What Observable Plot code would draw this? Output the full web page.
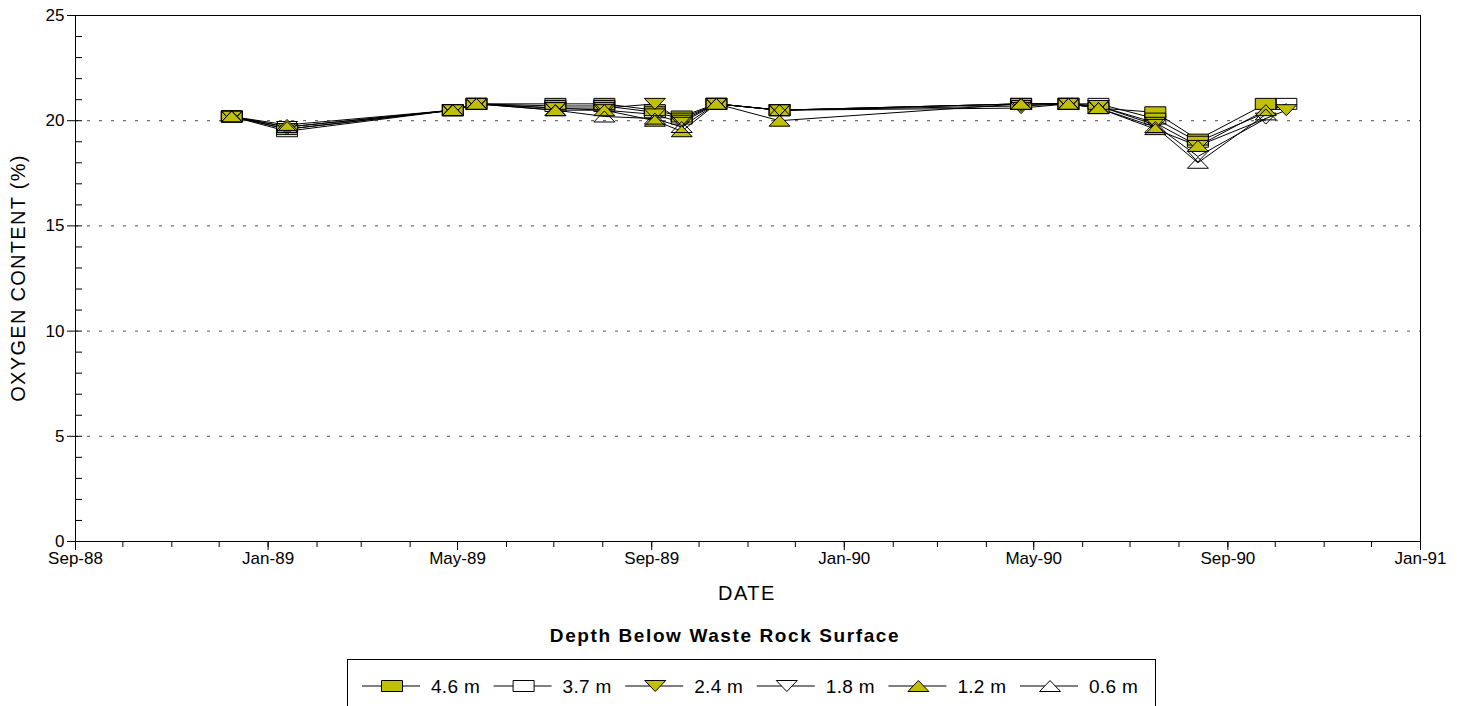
<!DOCTYPE html>
<html><head><meta charset="utf-8">
<script src="https://cdn.jsdelivr.net/npm/d3@7"></script>
<script src="https://cdn.jsdelivr.net/npm/@observablehq/plot@0.6"></script>
<style>
body{margin:0;background:#fff;font-family:"Liberation Sans",Arial,sans-serif;color:#000;}
#wrap{position:relative;width:1462px;height:706px;overflow:hidden;background:#fff;}
#chart{position:absolute;left:0;top:0;}
.ylab{position:absolute;left:18px;top:278px;transform:translate(-50%,-50%) rotate(-90deg);font-size:20px;letter-spacing:1.3px;white-space:nowrap;}
.xlab{position:absolute;left:747px;top:593px;transform:translate(-50%,-50%);font-size:20px;letter-spacing:1.5px;}
.ltitle{position:absolute;left:725px;top:636px;transform:translate(-50%,-50%);font-size:19px;font-weight:bold;letter-spacing:1.6px;white-space:nowrap;}
#legend{position:absolute;left:347px;top:659px;width:809px;height:60px;border:1px solid #000;box-sizing:border-box;}
</style></head><body>
<div id="wrap"><div id="chart"></div>
<div class="ylab">OXYGEN CONTENT (%)</div>
<div class="xlab">DATE</div>
<div class="ltitle">Depth Below Waste Rock Surface</div>
<div id="legend"></div>
</div>
<script>
// ---- data ----
const dates = ["1988-12-09","1989-01-13","1989-04-28","1989-05-13","1989-07-02","1989-08-02","1989-09-03","1989-09-20","1989-10-12","1989-11-21","1990-04-23","1990-05-23","1990-06-11","1990-07-17","1990-08-13","1990-09-25","1990-10-08"];
const depths = ["4.6 m","3.7 m","2.4 m","1.8 m","1.2 m","0.6 m"];
const o2_46 = [20.2,19.6,20.5,20.8,20.8,20.8,20.5,20.2,20.8,20.5,20.8,20.8,20.6,20.4,19.1,20.8,null];
const o2_37 = [20.2,19.5,20.5,20.8,20.7,20.7,20.4,20.1,20.8,20.5,20.8,20.8,20.8,20.1,19.0,null,20.8];
const o2_24 = [20.2,19.6,20.5,20.8,20.6,20.6,20.8,20.0,20.8,20.5,20.6,20.8,20.7,19.9,18.8,null,20.5];
const o2_18 = [20.2,19.7,20.5,20.8,20.6,20.5,20.3,19.9,20.8,20.5,20.7,20.8,20.7,19.8,18.3,20.1,null];
const o2_12 = [20.2,19.8,20.5,20.8,20.5,20.5,20.0,19.5,20.8,20.0,20.8,20.8,20.6,19.6,18.8,20.5,null];
const o2_06 = [20.2,19.7,20.5,20.8,20.5,20.2,20.1,19.7,20.8,20.5,20.8,20.8,20.6,19.7,18.0,20.3,null];
const seriesValues = [o2_46,o2_37,o2_24,o2_18,o2_12,o2_06];
const xTickDates = ["1988-09-01","1989-01-01","1989-05-01","1989-09-01","1990-01-01","1990-05-01","1990-09-01","1991-01-01"];
const yTicks = [0,5,10,15,20,25];
const yGrid = [5,10,15,20];

// ---- symbols ----
const W2 = 10.5, H2 = 5.5;
const square = {draw(c){c.moveTo(-W2,-H2);c.lineTo(W2,-H2);c.lineTo(W2,H2);c.lineTo(-W2,H2);c.closePath();}};
const triUp = {draw(c){c.moveTo(0,-H2);c.lineTo(W2,H2);c.lineTo(-W2,H2);c.closePath();}};
const triDown = {draw(c){c.moveTo(-W2,-H2);c.lineTo(W2,-H2);c.lineTo(0,H2);c.closePath();}};
const OLIVE = "#c0c000";
const styles = [
  {symbol: square, fill: OLIVE},
  {symbol: square, fill: "none"},
  {symbol: triDown, fill: OLIVE},
  {symbol: triDown, fill: "none"},
  {symbol: triUp, fill: OLIVE},
  {symbol: triUp, fill: "none"}
];

const rows = [];
depths.forEach((d, i) => {
  seriesValues[i].forEach((v, j) => {
    if (v != null) rows.push({depth: d, date: new Date(dates[j]), value: v, k: i});
  });
});

const domain = [new Date("1988-09-01"), new Date("1991-01-01")];
const monthTicks = d3.utcMonth.range(domain[0], d3.utcMonth.offset(domain[1], 1));
const yMinor = d3.range(0, 26);
const fmt = d3.utcFormat("%b-%y");

const marks = [
  Plot.gridY(yGrid, {stroke: "#000", strokeOpacity: 0.7, strokeDasharray: "3,9"}),
  Plot.frame({stroke: "#000", strokeWidth: 1}),
  Plot.axisX(monthTicks, {tickSize: 6, tickFormat: () => "", label: null}),
  Plot.axisX(xTickDates.map(d => new Date(d)), {tickSize: 9, tickPadding: 1, tickFormat: fmt, label: null, fontSize: 17, letterSpacing: 0.4}),
  Plot.axisY(yMinor, {tickSize: 7, dx: 7, tickFormat: () => "", label: null}),
  Plot.axisY(yTicks, {tickSize: 8, tickPadding: 3, label: null, fontSize: 17, letterSpacing: 0.4}),
  Plot.line(rows, {x: "date", y: "value", z: "depth", stroke: "#000", strokeWidth: 1})
];
depths.forEach((d, i) => {
  marks.push(Plot.dot(rows.filter(r => r.k === i), {x: "date", y: "value", r: 6, symbol: styles[i].symbol, fill: styles[i].fill, stroke: "#000", strokeWidth: 1}));
});

const chart = Plot.plot({
  width: 1462, height: 610,
  marginLeft: 75, marginRight: 42, marginTop: 15, marginBottom: 69,
  x: {type: "utc", domain},
  y: {domain: [0, 25]},
  style: {fontFamily: "'Liberation Sans', Arial, sans-serif", fontSize: "17px", color: "#000", background: "#fff", overflow: "visible"},
  marks
});
document.getElementById("chart").appendChild(chart);

// ---- legend ----
const leg = d3.select("#legend").append("svg").attr("width", 809).attr("height", 60).style("display","block");
depths.forEach((d, i) => {
  const cx = 44 + 131.6 * i, cy = 26;
  const g = leg.append("g");
  g.append("line").attr("x1", cx - 30).attr("x2", cx + 28).attr("y1", cy).attr("y2", cy).attr("stroke", "#000");
  const p = d3.path(); styles[i].symbol.draw(p);
  g.append("path").attr("d", p.toString()).attr("transform", `translate(${cx},${cy})`)
    .attr("fill", styles[i].fill === "none" ? "#fff" : styles[i].fill).attr("stroke", "#000");
  g.append("text").attr("x", cx + 39).attr("y", cy).attr("dy", "0.35em")
    .attr("font-size", 19).attr("letter-spacing", 0.3).attr("font-family", "'Liberation Sans',Arial,sans-serif").text(d);
});
</script>
</body></html>
